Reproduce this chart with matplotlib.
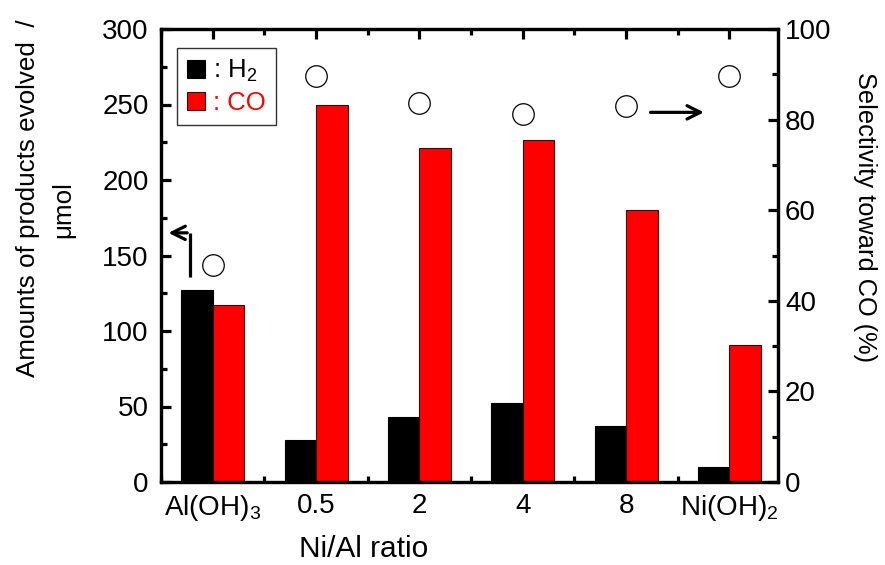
import numpy as np
import matplotlib
matplotlib.use('Agg')
import matplotlib.pyplot as plt
from matplotlib.ticker import MultipleLocator

plt.rcParams['font.family'] = ['Liberation Sans', 'DejaVu Sans']
plt.rcParams['mathtext.fontset'] = 'custom'
plt.rcParams['mathtext.rm'] = 'Liberation Sans'

# data
samples = ['Al(OH)$\\mathregular{_3}$', '0.5', '2', '4', '8', 'Ni(OH)$\\mathregular{_2}$']
h2 = [127, 28, 43, 52, 37, 10]            # umol
co = [117, 250, 221, 226.5, 180, 91]      # umol
sel = [48, 89.6, 83.6, 81.3, 82.9, 89.7]  # selectivity toward CO, %

x = np.arange(len(samples))
w = 0.305

fig = plt.figure(figsize=(8.85, 5.65), dpi=100)
ax1 = fig.add_axes([161/885, 1-482/565, (778-161)/885, (482-29)/565])
ax2 = ax1.twinx()

ax1.bar(x - w/2, h2, width=w, color='black', edgecolor='black', linewidth=0.8, label=': H$\\mathregular{_2}$')
ax1.bar(x + w/2, co, width=w, color='#ff0000', edgecolor='#330000', linewidth=0.8, label=': CO')
ax2.plot(x, sel, 'o', ls='none', ms=15.5, mfc='white', mec='black', mew=0.9)

ax1.set_xlim(-0.5, 5.47)
ax1.set_ylim(0, 300)
ax2.set_ylim(0, 100)

ax1.set_xticks(x)
ax1.set_xticklabels(samples, fontsize=20)
ax1.xaxis.set_minor_locator(MultipleLocator(0.5))
ax1.yaxis.set_major_locator(MultipleLocator(50))
ax1.yaxis.set_minor_locator(MultipleLocator(25))
ax2.yaxis.set_major_locator(MultipleLocator(20))
ax2.yaxis.set_minor_locator(MultipleLocator(10))

lw = 2.3
for a in (ax1, ax2):
    for s in a.spines.values():
        s.set_linewidth(lw)

ax1.tick_params(axis='x', which='major', direction='in', bottom=False, top=True,
                length=7, width=lw, pad=8)
ax1.tick_params(axis='x', which='minor', direction='in', bottom=True, top=True,
                length=4, width=lw)
ax1.tick_params(axis='y', which='major', direction='in', left=True, right=False,
                length=7, width=lw, labelsize=20, pad=9)
ax1.tick_params(axis='y', which='minor', direction='in', left=True, right=False,
                length=4, width=lw)
ax2.tick_params(axis='y', which='major', direction='in', length=7, width=lw,
                labelsize=20, pad=5)
ax2.tick_params(axis='y', which='minor', direction='in', length=4, width=lw)
ax2.tick_params(axis='x', which='both', bottom=False, top=False)

fig.text(364/885, 1-549/565, 'Ni/Al ratio', fontsize=21.5, ha='center', va='center')
fig.text(28/885, 1-198/565, 'Amounts of products evolved  /', fontsize=18.7,
         rotation=90, ha='center', va='center')
fig.text(63/885, 1-210/565, 'μmol', fontsize=18.7, rotation=90, ha='center', va='center')
fig.text(865/885, 1-217/565, 'Selectivity toward CO (%)', fontsize=18.3,
         rotation=270, ha='center', va='center')

# arrows pointing to the axes
ax1.annotate('', xy=(-0.455, 165), xytext=(-0.22, 165),
             arrowprops=dict(arrowstyle='->', lw=2.3, color='black',
                             mutation_scale=24))
ax1.plot([-0.22, -0.22], [136, 165], color='black', lw=2.3, solid_capstyle='butt')
ax2.annotate('', xy=(4.78, 81.6), xytext=(4.21, 81.6),
             arrowprops=dict(arrowstyle='->', lw=2.3, color='black',
                             mutation_scale=24))

leg = ax1.legend(loc='upper left', bbox_to_anchor=(16/617, 1-19/453), borderaxespad=0,
                 fontsize=18.5, frameon=True, fancybox=False, edgecolor='black',
                 handlelength=0.7, handleheight=0.7, handletextpad=0.3,
                 labelspacing=0.25, borderpad=0.4)
leg.get_frame().set_linewidth(1.0)
leg.get_texts()[1].set_color('#ff0000')

fig.savefig('out.png', dpi=100)
